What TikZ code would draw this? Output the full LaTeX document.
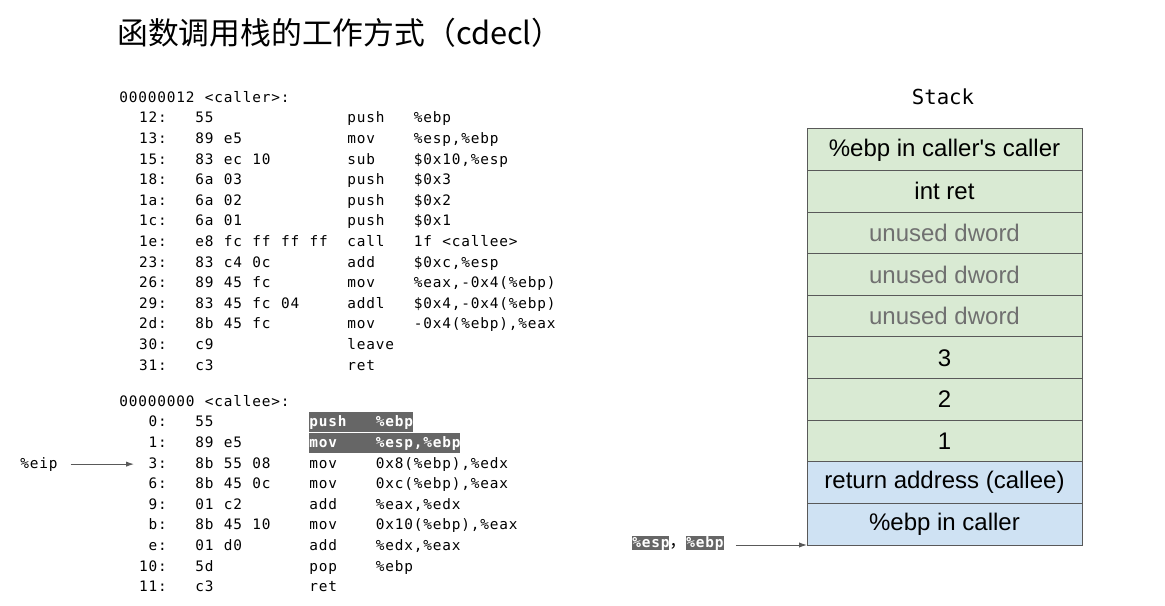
\documentclass[tikz,border=0pt]{standalone}
\usepackage{fontspec}
\setmainfont{Liberation Sans}[Ligatures=TeXOff]
\newfontfamily\codefont{DejaVu Sans Mono}[LetterSpace=5.8,WordSpace=1.096]
\newfontfamily\monofont{DejaVu Sans Mono}
\newfontfamily\cjkfont{Noto Sans CJK SC}
\usetikzlibrary{arrows.meta,positioning}

\definecolor{hlgray}{HTML}{666666}
\definecolor{linegray}{HTML}{595959}
\definecolor{callergreen}{HTML}{D9EAD3}
\definecolor{calleeblue}{HTML}{CFE2F3}
\definecolor{unusedgray}{HTML}{707070}

% one column of the listing is \chw wide
\newlength\chw \setlength\chw{7.125pt}
\newcommand\codehl[1]{{\setlength\fboxsep{0pt}\colorbox{hlgray}{\rule[-3.75pt]{0pt}{14.6pt}\color{white}\bfseries #1}}}
\newcommand\regbox[1]{{\setlength\fboxsep{0pt}\colorbox{hlgray}{\rule[-2.6pt]{0pt}{10.9pt}\color{white}\bfseries #1}}}
\newcommand\asm[5][16]{\makebox[5\chw][r]{#2}\hspace{3\chw}\makebox[#1\chw][l]{#3}\makebox[7\chw][l]{#4}#5}
\newcommand\asmhl[4]{\makebox[5\chw][r]{#1}\hspace{3\chw}\makebox[12\chw][l]{#2}\codehl{\makebox[7\chw][l]{#3}#4}}

\tikzset{
  code/.style={font=\codefont\fontsize{10.8pt}{13pt}\selectfont, anchor=base west, inner sep=0pt},
  slot/.style={draw=linegray, line width=0.75pt, fill=callergreen, minimum width=206.25pt, minimum height=31.2pt,
    inner sep=0pt, outer sep=0pt, font=\fontsize{18pt}{20pt}\selectfont},
  slotcallee/.style={slot, fill=calleeblue},
  unused/.style={slot, text=unusedgray},
  ptr/.style={draw=linegray, line width=0.75pt, -{Latex[length=6pt,width=4pt]}}
}

\begin{document}
\begin{tikzpicture}[x=0.75pt,y=-0.75pt]
    \useasboundingbox (0,0) rectangle (1165,606);
    \node[anchor=base west, inner sep=0pt, font=\cjkfont\fontsize{23.1pt}{28pt}\selectfont] (title) at (117,45) {函数调用栈的工作方式（cdecl）};

    % caller
    \node[code] (caller) at (119,102.3) {00000012 <caller>:};
    \node[code] (c1)  at (119,122.9) {\asm{12:}{55}{push}{\%ebp}};
    \node[code] (c2)  at (119,143.5) {\asm{13:}{89 e5}{mov}{\%esp,\%ebp}};
    \node[code] (c3)  at (119,164.1) {\asm{15:}{83 ec 10}{sub}{\$0x10,\%esp}};
    \node[code] (c4)  at (119,184.7) {\asm{18:}{6a 03}{push}{\$0x3}};
    \node[code] (c5)  at (119,205.3) {\asm{1a:}{6a 02}{push}{\$0x2}};
    \node[code] (c6)  at (119,225.9) {\asm{1c:}{6a 01}{push}{\$0x1}};
    \node[code] (c7)  at (119,246.5) {\asm{1e:}{e8 fc ff ff ff}{call}{1f <callee>}};
    \node[code] (c8)  at (119,267.1) {\asm{23:}{83 c4 0c}{add}{\$0xc,\%esp}};
    \node[code] (c9)  at (119,287.7) {\asm{26:}{89 45 fc}{mov}{\%eax,-0x4(\%ebp)}};
    \node[code] (c10) at (119,308.3) {\asm{29:}{83 45 fc 04}{addl}{\$0x4,-0x4(\%ebp)}};
    \node[code] (c11) at (119,328.9) {\asm{2d:}{8b 45 fc}{mov}{-0x4(\%ebp),\%eax}};
    \node[code] (c12) at (119,349.5) {\asm{30:}{c9}{leave}{}};
    \node[code] (c13) at (119,370.1) {\asm{31:}{c3}{ret}{}};

    % callee
    \node[code] (callee) at (119,406.3) {00000000 <callee>:};
    \node[code] (e1) at (119,426.9) {\asmhl{0:}{55}{push}{\%ebp}};
    \node[code] (e2) at (119,447.5) {\asmhl{1:}{89 e5}{mov}{\%esp,\%ebp}};
    \node[code] (e3) at (119,468.1) {\asm[12]{3:}{8b 55 08}{mov}{0x8(\%ebp),\%edx}};
    \node[code] (e4) at (119,488.7) {\asm[12]{6:}{8b 45 0c}{mov}{0xc(\%ebp),\%eax}};
    \node[code] (e5) at (119,509.3) {\asm[12]{9:}{01 c2}{add}{\%eax,\%edx}};
    \node[code] (e6) at (119,529.9) {\asm[12]{b:}{8b 45 10}{mov}{0x10(\%ebp),\%eax}};
    \node[code] (e7) at (119,550.5) {\asm[12]{e:}{01 d0}{add}{\%edx,\%eax}};
    \node[code] (e8) at (119,571.1) {\asm[12]{10:}{5d}{pop}{\%ebp}};
    \node[code] (e9) at (119,591.7) {\asm[12]{11:}{c3}{ret}{}};

    \node[code] (eip) at (20,468.1) {\%eip};
    \coordinate (eiptip) at (134,464);
    \draw[ptr] (eip.east) ++(13,0) -- (eip.east -| eiptip);

    % stack
    \node[font=\monofont\fontsize{15.5pt}{18pt}\selectfont, anchor=base] (stacklbl) at (943,105) {Stack};
    \node[slot] (s1) at (944.5,149.8) {\%ebp in caller's caller};
    \node[slot, below=0pt of s1] (s2) {int ret};
    \node[unused, below=0pt of s2] (s3) {unused dword};
    \node[unused, below=0pt of s3] (s4) {unused dword};
    \node[unused, below=0pt of s4] (s5) {unused dword};
    \node[slot, below=0pt of s5] (s6) {3};
    \node[slot, below=0pt of s6] (s7) {2};
    \node[slot, below=0pt of s7] (s8) {1};
    \node[slotcallee, below=0pt of s8] (s9) {return address (callee)};
    \node[slotcallee, below=0pt of s9] (s10) {\%ebp in caller};

    \node[code] (regs) at (632,547) {\regbox{\%esp}{\cjkfont\fontsize{12.75pt}{14pt}\selectfont ，}\regbox{\%ebp}};
    \draw[ptr] (regs.east |- s10.south) ++(12,0) -- (s10.south west);
\end{tikzpicture}
\end{document}
